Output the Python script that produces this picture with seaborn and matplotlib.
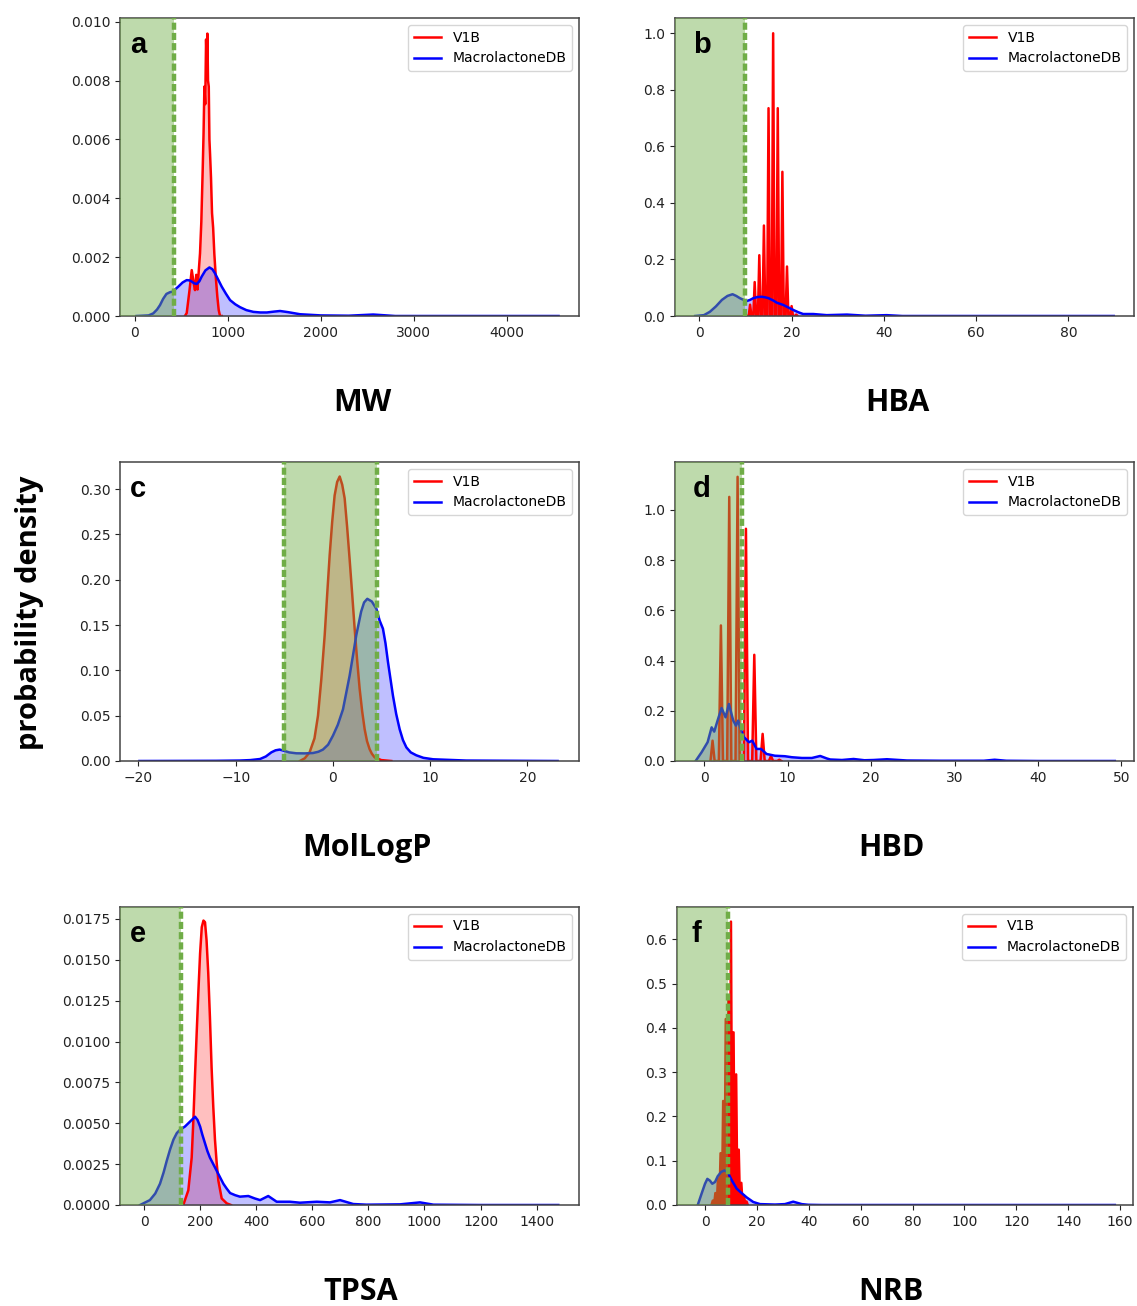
import numpy as np
import pandas as pd
import seaborn as sns
import matplotlib.pyplot as plt

# ---- MW (a) ----
mw_red_x = [540, 559, 590, 613, 635, 648, 662, 675, 690, 702, 716, 731, 740, 749, 758, 767, 774,
            781, 788, 796, 803, 810, 820, 831, 843, 856, 872, 888, 903, 917, 935]
mw_red_y = [0, 0.0001, 0.0009, 0.00156, 0.0011, 0.00088, 0.0014, 0.0009, 0.0016, 0.00213, 0.0032,
            0.0050, 0.0062, 0.0078, 0.0072, 0.0094, 0.0086, 0.0096, 0.0080, 0.0078, 0.0060, 0.0055,
            0.0047, 0.0035, 0.0030, 0.0021, 0.0013, 0.00066, 0.0002, 0, 0]
mw_blue_x = [20, 150, 200, 240, 272, 305, 341, 380, 412, 440, 469, 515, 559, 590, 613, 640, 667,
             695, 720, 760, 803, 835, 863, 900, 935, 980, 1025, 1080, 1132, 1200, 1276, 1350,
             1420, 1500, 1562, 1650, 1777, 2000, 2300, 2563, 2800, 3500, 4555]
mw_blue_y = [0, 0.00002, 0.00009, 0.00022, 0.00037, 0.00058, 0.00075, 0.00081, 0.00083, 0.00092,
             0.0010, 0.00114, 0.00122, 0.00121, 0.00117, 0.00111, 0.00109, 0.00118, 0.00134,
             0.00155, 0.00165, 0.00159, 0.00145, 0.00122, 0.0010, 0.00076, 0.00054, 0.0004,
             0.0003, 0.0002, 0.00014, 0.00012, 0.00012, 0.00015, 0.00017, 0.00013, 0.00006,
             0.00002, 0.00001, 0.00005, 0, 0, 0]

# ---- HBA (b) ----
hba_red_pos = [10, 11, 12, 13, 14, 15, 16, 17, 18, 19, 20, 21]
hba_red_h = [0.005, 0.04, 0.12, 0.215, 0.32, 0.735, 1.0, 0.735, 0.51, 0.175, 0.035, 0.005]
hba_blue_x = [-0.9, 1.0, 2.3, 3.6, 4.9, 6.1, 7.2, 8.0, 8.8, 9.6, 10.3, 11.0, 11.7, 12.6, 13.5,
              14.3, 15.0, 16.0, 16.8, 17.5, 18.2, 19.3, 20.4, 21.5, 22.5, 24.7, 27.6, 32, 36,
              40.6, 44, 60, 89.8]
hba_blue_y = [0, 0.003, 0.015, 0.034, 0.057, 0.071, 0.077, 0.071, 0.063, 0.057, 0.053, 0.057,
              0.063, 0.067, 0.068, 0.066, 0.063, 0.055, 0.047, 0.043, 0.039, 0.030, 0.021, 0.013,
              0.007, 0.007, 0.003, 0.005, 0.001, 0.003, 0, 0, 0]

# ---- MolLogP (c) ----
logp_red_x = [-3.4, -2.9, -2.4, -1.9, -1.54, -1.2, -0.85, -0.6, -0.34, -0.08, 0.17, 0.43, 0.69,
              0.95, 1.2, 1.45, 1.71, 1.97, 2.23, 2.48, 2.74, 3.0, 3.26, 3.5, 3.77, 4.0, 4.29,
              4.97, 6.0]
logp_red_y = [0, 0.003, 0.0096, 0.025, 0.050, 0.09, 0.139, 0.183, 0.227, 0.264, 0.293, 0.308,
              0.314, 0.305, 0.29, 0.259, 0.223, 0.185, 0.146, 0.112, 0.080, 0.055, 0.035, 0.022,
              0.013, 0.008, 0.004, 0.001, 0]
logp_blue_x = [-19.9, -12, -9.6, -8.5, -7.5, -6.9, -6.33, -5.9, -5.48, -5.0, -4.5, -3.77, -2.9,
               -2.06, -1.5, -1.03, -0.5, 0, 0.5, 1.03, 1.71, 2.05, 2.4, 2.9, 3.2, 3.53, 4.0,
               4.46, 4.8, 5.14, 5.4, 5.66, 6.17, 6.5, 6.86, 7.2, 7.55, 8.0, 8.57, 9.3, 10.3,
               13.7, 23.1]
logp_blue_y = [0, 0.0002, 0.0005, 0.001, 0.0022, 0.005, 0.0096, 0.0118, 0.0126, 0.0112, 0.0095,
               0.0085, 0.0084, 0.0088, 0.0102, 0.0126, 0.018, 0.028, 0.040, 0.057, 0.094, 0.116,
               0.139, 0.165, 0.175, 0.179, 0.176, 0.168, 0.155, 0.146, 0.13, 0.109, 0.072, 0.052,
               0.035, 0.023, 0.015, 0.0095, 0.0063, 0.0035, 0.0019, 0.0005, 0]

# ---- HBD (d) ----
hbd_red_pos = [1, 2, 3, 4, 5, 6, 7, 8, 9]
hbd_red_h = [0.081, 0.54, 1.052, 1.132, 0.925, 0.423, 0.108, 0.02, 0.005]
hbd_blue_x = [-1.03, -0.31, 0.41, 0.89, 1.2, 1.6, 2.08, 2.56, 2.96, 3.48, 3.8, 4.07, 4.36, 4.76,
              5.36, 5.76, 6.27, 6.8, 7.47, 8.47, 9.67, 10.5, 11.7, 12.9, 13.9, 14.7, 15.1, 16.5,
              17.9, 19.2, 20.3, 21.9, 24.3, 28.3, 33.5, 34.8, 36.2, 40, 49.2]
hbd_blue_y = [0, 0.035, 0.075, 0.134, 0.117, 0.161, 0.211, 0.174, 0.227, 0.161, 0.141, 0.161,
              0.128, 0.095, 0.075, 0.081, 0.048, 0.048, 0.028, 0.021, 0.019, 0.015, 0.012, 0.012,
              0.02, 0.01, 0.006, 0.004, 0.008, 0.003, 0.004, 0.007, 0.002, 0.001, 0.001, 0.005,
              0.001, 0, 0]

# ---- TPSA (e) ----
tpsa_red_x = [140, 158, 170, 176, 182, 188, 194, 200, 206, 212, 217.5, 223, 229, 235, 241, 247,
              253, 259, 265, 277, 295, 310]
tpsa_red_y = [0, 0.0009, 0.0029, 0.0052, 0.0080, 0.0106, 0.0131, 0.0154, 0.0170, 0.0174, 0.0173,
              0.0162, 0.0142, 0.0115, 0.0084, 0.0060, 0.0040, 0.0026, 0.0015, 0.0004, 0.0001, 0]
tpsa_blue_x = [-14, 21, 40, 57, 70, 81, 93, 105, 117, 128, 146, 164, 182, 191, 200, 208, 217,
               226, 235, 247, 259, 271, 283, 295, 307, 325, 342, 372, 395, 414, 443, 473, 520,
               556, 616, 663, 699, 746, 793, 913, 984, 1032, 1200, 1477]
tpsa_blue_y = [0, 0.0003, 0.0007, 0.0013, 0.0020, 0.0027, 0.0034, 0.0040, 0.0044, 0.0046, 0.0048,
               0.0051, 0.0054, 0.0052, 0.0048, 0.0043, 0.0038, 0.0033, 0.0029, 0.0025, 0.0021,
               0.0017, 0.0013, 0.0010, 0.00073, 0.0006, 0.00051, 0.00055, 0.0004, 0.0003,
               0.00055, 0.0002, 0.0002, 0.00014, 0.0002, 0.00016, 0.0003, 0.00006, 0.00002,
               0.00004, 0.00016, 0.00002, 0, 0]

# ---- NRB (f) ----
nrb_red_pos = [3, 4, 5, 6, 7, 8, 9, 10, 11, 12, 13, 14, 15, 16]
nrb_red_h = [0.01, 0.027, 0.06, 0.117, 0.235, 0.42, 0.47, 0.64, 0.39, 0.295, 0.125, 0.05, 0.022, 0.008]
nrb_blue_x = [-2.8, -1.3, 0, 0.9, 1.9, 2.8, 3.86, 4.9, 6.2, 7.45, 8.74, 10.3, 12.2, 14.1, 16.1,
              18.6, 21.2, 27, 30.8, 34.0, 37.3, 39.8, 45, 158]
nrb_blue_y = [0, 0.026, 0.048, 0.059, 0.055, 0.048, 0.052, 0.065, 0.0745, 0.078, 0.074, 0.056,
              0.037, 0.027, 0.017, 0.0068, 0.002, 0.001, 0.002, 0.0075, 0.002, 0.0005, 0, 0]

names = ['MW', 'HBA', 'MolLogP', 'HBD', 'TPSA', 'NRB']
letters = ['a', 'b', 'c', 'd', 'e', 'f']
rule_lo = [None, None, -5, None, None, None]
rule_hi = [420, 10, 4.5, 4.5, 132, 9]


def spike_curve(pos, heights, half):
    xs, ys = [], []
    for p, h in zip(pos, heights):
        xs += [p - half, p, p + half]
        ys += [0, h, 0]
    return xs, ys


red_curves = [
    (mw_red_x, mw_red_y),
    spike_curve(hba_red_pos, hba_red_h, 0.3),
    (logp_red_x, logp_red_y),
    spike_curve(hbd_red_pos, hbd_red_h, 0.25),
    (tpsa_red_x, tpsa_red_y),
    spike_curve(nrb_red_pos, nrb_red_h, 0.5),
]
blue_curves = [
    (mw_blue_x, mw_blue_y),
    (hba_blue_x, hba_blue_y),
    (logp_blue_x, logp_blue_y),
    (hbd_blue_x, hbd_blue_y),
    (tpsa_blue_x, tpsa_blue_y),
    (nrb_blue_x, nrb_blue_y),
]

W, H = 1137, 1306
# axes boxes in pixels: left, top, right, bottom
boxes = [(120, 18, 579, 316), (675, 18, 1134, 316),
         (120, 462, 579, 761), (675, 462, 1134, 761),
         (120, 907, 579, 1205), (677, 907, 1133, 1205)]
xlims = [(-158, 4775), (-5.27, 94.2), (-21.9, 25.3), (-3.5, 51.5), (-85.6, 1551), (-10.8, 165)]
ylims = [(0, 0.01013), (0, 1.054), (0, 0.330), (0, 1.191), (0, 0.01823), (0, 0.673)]
letter_inset = [10, 18, 10, 18, 10, 15]
label_pos = [(362, 403), (897, 403), (367, 848), (891, 848), (361, 1292), (891, 1292)]

green = '#70ad47'
dash = (0, (1.6, 0.7))

fig = plt.figure(figsize=(W / 100, H / 100), dpi=100)

for i in range(6):
    l, t, r, b = boxes[i]
    ax = fig.add_axes([l / W, 1 - b / H, (r - l) / W, (b - t) / H])

    rx, ry = red_curves[i]
    bx, by = blue_curves[i]
    red = pd.DataFrame({'x': rx, 'y': ry})
    blue = pd.DataFrame({'x': bx, 'y': by})

    sns.lineplot(data=red, x='x', y='y', color='red', lw=1.8, label='V1B',
                 estimator=None, sort=False, ax=ax)
    ax.fill_between(red['x'], red['y'], color='red', alpha=0.25, lw=0)
    sns.lineplot(data=blue, x='x', y='y', color='blue', lw=1.8, label='MacrolactoneDB',
                 estimator=None, sort=False, ax=ax)
    ax.fill_between(blue['x'], blue['y'], color='blue', alpha=0.25, lw=0)

    ax.set_xlim(*xlims[i])
    ax.set_ylim(*ylims[i])

    lo = xlims[i][0] if rule_lo[i] is None else rule_lo[i]
    ax.axvspan(lo, rule_hi[i], color=green, alpha=0.45, lw=0, zorder=3)
    ax.axvline(rule_hi[i], color=green, lw=3.2, ls=dash, zorder=4)
    if rule_lo[i] is not None:
        ax.axvline(rule_lo[i], color=green, lw=3.2, ls=dash, zorder=4)

    ax.set_xlabel('')
    ax.set_ylabel('')
    ax.tick_params(labelsize=10, colors='#222222')
    for s in ax.spines.values():
        s.set_edgecolor('#444444')
        s.set_linewidth(1.1)

    ax.legend(loc='upper right', fontsize=10)
    ax.text(letter_inset[i] / (r - l), 0.883, letters[i], transform=ax.transAxes,
            fontsize=21, fontweight='bold', family='Liberation Sans', va='baseline', zorder=6)

    lx, ly = label_pos[i]
    fig.text(lx / W, 1 - ly / H, names[i], ha='center', va='center',
             fontsize=22, fontweight='bold', family='Open Sans')

fig.text(30 / W, 1 - 613 / H, 'probability density', rotation=90, ha='center', va='center',
         fontsize=21, fontweight='bold', family='Open Sans')

plt.savefig('out.png', dpi=100)
plt.close()
